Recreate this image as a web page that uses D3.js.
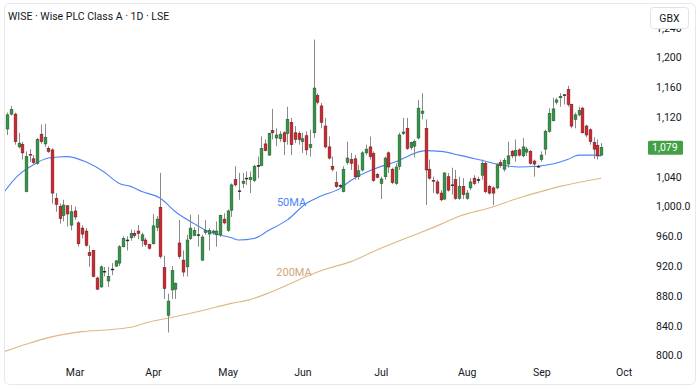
<!DOCTYPE html>
<html><head><meta charset="utf-8">
<script src="https://cdn.jsdelivr.net/npm/d3@7"></script>
<style>
html,body{margin:0;padding:0;background:#fff;}
svg{display:block;font-family:Roboto,"Noto Sans",sans-serif;}
</style>
</head><body>
<svg id="chart" width="700" height="389"></svg>
<script>
// ---- Data (WISE, daily, GBX) ; bar index 0 = 5 Feb 2025 ----
const opens  = [1104,1124,1124,1080,1083,1020,1070,1064,1058,1097,1084,1078,1076,1011,1000,988,1001,975,994,978,
 971,967,938,941,904,892,913,900,916,920,924,946,955,958,964,967,954,955,949,950,
 972,999,918,854,888,889,951,928,919,957,961,962,928,965,963,965,962,962,983,968,
 995,1036,1021,1031,1038,1036,1035,1055,1055,1084,1069,1102,1092,1091,1099,1098,1113,1099,1098,1087,
 1095,1079,1099,1149,1135,1108,1080,1054,1032,1028,1020,1059,1063,1064,1040,1049,1072,1080,1071,1043,
 1031,1040,1072,1050,1031,1054,1098,1105,1079,1081,1092,1125,1105,1050,1035,1033,1018,1010,1040,1029,
 1036,1011,1027,1011,1025,1038,1036,1042,1058,1027,1025,1025,1059,1050,1057,1074,1068,1076,1068,1073,
 1074,1061,1054,1063,1077,1101,1115,1140,1146,1150,1157,1137,1117,1123,1132,1108,1103,1086,1082,1069];
const highs  = [1126,1135,1126,1099,1087,1074,1077,1069,1092,1110,1111,1081,1078,1018,1004,1009,1002,1002,1000,980,
 975,971,948,942,906,921,919,919,924,928,948,960,960,969,968,975,965,958,950,990,
 987,1045,934,883,920,898,982,941,962,989,972,989,962,982,971,969,980,989,991,996,
 1031,1054,1045,1045,1047,1047,1056,1067,1094,1090,1099,1131,1105,1101,1101,1134,1119,1108,1101,1099,
 1101,1103,1224,1152,1139,1119,1094,1067,1047,1030,1054,1087,1072,1069,1056,1074,1083,1094,1074,1045,
 1040,1067,1074,1052,1058,1099,1119,1119,1087,1090,1143,1152,1117,1063,1040,1036,1022,1046,1045,1052,
 1049,1040,1038,1022,1038,1042,1040,1063,1060,1029,1027,1058,1063,1065,1087,1076,1090,1078,1092,1080,
 1076,1063,1056,1074,1103,1132,1146,1146,1152,1150,1162,1138,1126,1134,1134,1110,1105,1093,1090,1085];
const lows   = [1096,1122,1083,1078,1063,1019,1060,1056,1056,1084,1080,1072,1004,993,977,980,973,968,982,946,
 957,946,919,905,888,891,906,892,908,919,920,945,941,954,958,956,946,946,942,949,
 967,930,876,831,876,876,930,906,906,955,960,946,927,962,941,962,946,959,976,966,
 986,1027,1009,1025,1029,1018,1033,1038,1054,1074,1068,1090,1081,1087,1069,1083,1069,1085,1083,1072,
 1069,1067,1092,1137,1105,1078,1063,1047,1025,1025,1019,1056,1049,1036,1036,1047,1069,1063,1033,1038,
 1010,1036,1045,1030,1029,1049,1096,1076,1076,1066,1090,1117,1002,1036,1018,1016,1007,1009,1020,1016,
 1009,1009,1010,1009,1022,1029,1031,1036,1018,1016,1002,1023,1052,1047,1052,1065,1060,1067,1066,1068,
 1056,1040,1052,1060,1069,1099,1117,1137,1134,1137,1134,1105,1105,1121,1098,1093,1083,1064,1063,1068];
const closes = [1123,1130,1087,1085,1072,1067,1069,1059,1090,1087,1093,1074,1018,1003,984,1002,990,993,986,950,
 963,948,934,906,889,919,913,906,916,927,946,957,955,964,961,964,962,949,944,974,
 983,933,890,873,914,897,933,912,955,971,968,962,959,968,968,967,967,988,978,994,
 1029,1029,1021,1034,1038,1039,1054,1055,1078,1075,1098,1099,1096,1097,1087,1117,1083,1090,1090,1091,
 1076,1083,1159,1140,1113,1080,1065,1050,1027,1028,1050,1065,1058,1040,1048,1072,1077,1067,1035,1039,
 1037,1065,1053,1032,1053,1096,1100,1078,1086,1087,1132,1128,1049,1038,1034,1018,1009,1045,1022,1029,
 1011,1027,1016,1018,1033,1031,1036,1058,1020,1018,1018,1056,1055,1062,1068,1068,1075,1069,1080,1077,
 1058,1057,1054,1069,1101,1125,1131,1143,1148,1150,1137,1108,1123,1129,1099,1096,1087,1077,1068,1079];

// moving averages (bar index -> value)
const ma50Idx  = [-2,3,7,11,16,21,26,30,33,36,41,45,50,54,60,62,66,70,75,80,84,89,92,98,104,112,116,121,127,132,137,142,146,150,153,157,159];
const ma50Val  = [1012,1042,1056,1065,1067,1060,1046,1031,1027,1020,1011,993,977,966,958,955,957,968,982,1004,1014,1024,1035,1050,1060,1075,1074,1069,1062,1056,1053,1054,1057,1063,1069,1069,1068];
const ma200Idx = [-2,5,11,20,28,34,38,43,52,60,65,70,76,81,86,92,100,108,116,121,129,138,145,148,159];
const ma200Val = [803,815,824,832,835,839,845,850,860,870,875,884,897,908,917,926,944,960,976,987,998,1013,1023,1027,1038];

// axes
const monthIdx    = [18,39,59,79,100,123,143,165];
const monthLabels = ["Mar","Apr","May","Jun","Jul","Aug","Sep","Oct"];
const yTickValues = [1240,1200,1160,1120,1040,1000,960,920,880,840,800];
const yTickLabels = ["1,240","1,200","1,160","1,120","1,040","1,000.0","960.0","920.0","880.0","840.0","800.0"];
const lastPrice = 1079, lastPriceLabel = "1,079";
const titleText = "WISE · Wise PLC Class A · 1D · LSE";
const currency = "GBX";

// ---- Drawing ----
const svg = d3.select("#chart");
const W = 700, H = 389;
const x = d3.scaleLinear().domain([-1.955, 169.4]).range([0, 640]);
const y = d3.scaleLinear().domain([800, 1200]).range([355.5, 57.5]);

const defs = svg.append("defs");
defs.append("clipPath").attr("id","plotclip").append("rect")
  .attr("x",5).attr("y",4).attr("width",640).attr("height",380);

// frame
svg.append("rect").attr("x",4.5).attr("y",3.5).attr("width",691).attr("height",381)
  .attr("rx",5).attr("fill","#fff").attr("stroke","#e6e8ee");

const plot = svg.append("g").attr("clip-path","url(#plotclip)");

// moving averages
const line = d3.line().curve(d3.curveMonotoneX);
plot.append("path")
  .attr("d", line(ma200Idx.map((d,i)=>[x(d), y(ma200Val[i])])))
  .attr("fill","none").attr("stroke","#deb887").attr("stroke-width",1.1);
plot.append("path")
  .attr("d", line(ma50Idx.map((d,i)=>[x(d), y(ma50Val[i])])))
  .attr("fill","none").attr("stroke","#4d84f5").attr("stroke-width",1.1);

// candles
const bars = d3.range(opens.length).map(i=>({i,o:opens[i],h:highs[i],l:lows[i],c:closes[i]}));
const bw = 2.7;
const cg = plot.append("g");
cg.selectAll("line.wick").data(bars).join("line").attr("class","wick")
  .attr("x1",d=>Math.round(x(d.i))+0.5).attr("x2",d=>Math.round(x(d.i))+0.5)
  .attr("y1",d=>y(d.h)).attr("y2",d=>y(d.l))
  .attr("stroke","#8a8a8a").attr("stroke-width",1);
cg.selectAll("rect.body").data(bars).join("rect").attr("class","body")
  .attr("x",d=>Math.round(x(d.i))+0.5-bw/2)
  .attr("y",d=>y(Math.max(d.o,d.c)))
  .attr("width",bw)
  .attr("height",d=>Math.max(0.8, Math.abs(y(d.o)-y(d.c))))
  .attr("fill",d=>d.c>d.o?"#2e9945":(d.c<d.o?"#d9232e":"#222"))
  .attr("stroke",d=>d.c>d.o?"#2b5a33":(d.c<d.o?"#6b2226":"#222"))
  .attr("stroke-width",0.6);

// MA labels
plot.append("text").attr("x",291.5).attr("y",202).attr("dy","0.35em")
  .attr("text-anchor","middle").attr("font-size",11).attr("fill","#4d84f5").text("50MA");
plot.append("text").attr("x",294).attr("y",272).attr("dy","0.35em")
  .attr("text-anchor","middle").attr("font-size",11).attr("fill","#d2a676").text("200MA");

// y axis (price scale)
const yAxis = d3.axisRight(y).tickValues(yTickValues)
  .tickFormat((d,i)=>yTickLabels[i]).tickSize(0).tickPadding(3);
const ya = svg.append("g").attr("transform","translate(653,0)").call(yAxis);
ya.select(".domain").remove();
ya.selectAll("text").attr("font-size",10.5).attr("fill","#131722").attr("font-family","Roboto,sans-serif");

// x axis
const xAxis = d3.axisBottom(x).tickValues(monthIdx)
  .tickFormat((d,i)=>monthLabels[i]).tickSize(0).tickPadding(3);
const xa = svg.append("g").attr("transform","translate(0,366)").call(xAxis);
xa.select(".domain").remove();
xa.selectAll("text").attr("font-size",10.5).attr("fill","#131722").attr("font-family","Roboto,sans-serif");

// currency box (covers top tick partly)
svg.append("rect").attr("x",650.5).attr("y",7.5).attr("width",38).attr("height",21)
  .attr("rx",3).attr("fill","#fff").attr("stroke","#e0e3eb");
svg.append("text").attr("x",669.5).attr("y",18).attr("dy","0.35em").attr("text-anchor","middle")
  .attr("font-size",10.5).attr("fill","#131722").text(currency);

// last price tag
const ly = y(lastPrice);
svg.append("rect").attr("x",648).attr("y",ly-7).attr("width",35).attr("height",14)
  .attr("rx",1.5).attr("fill","#43a047");
svg.append("text").attr("x",652).attr("y",ly).attr("dy","0.35em")
  .attr("font-size",10.5).attr("fill","#fff").text(lastPriceLabel);

// title
svg.append("text").attr("x",8).attr("y",16).attr("dy","0.35em")
  .attr("font-size",10.5).attr("fill","#131722").text(titleText);
</script>
</body></html>
